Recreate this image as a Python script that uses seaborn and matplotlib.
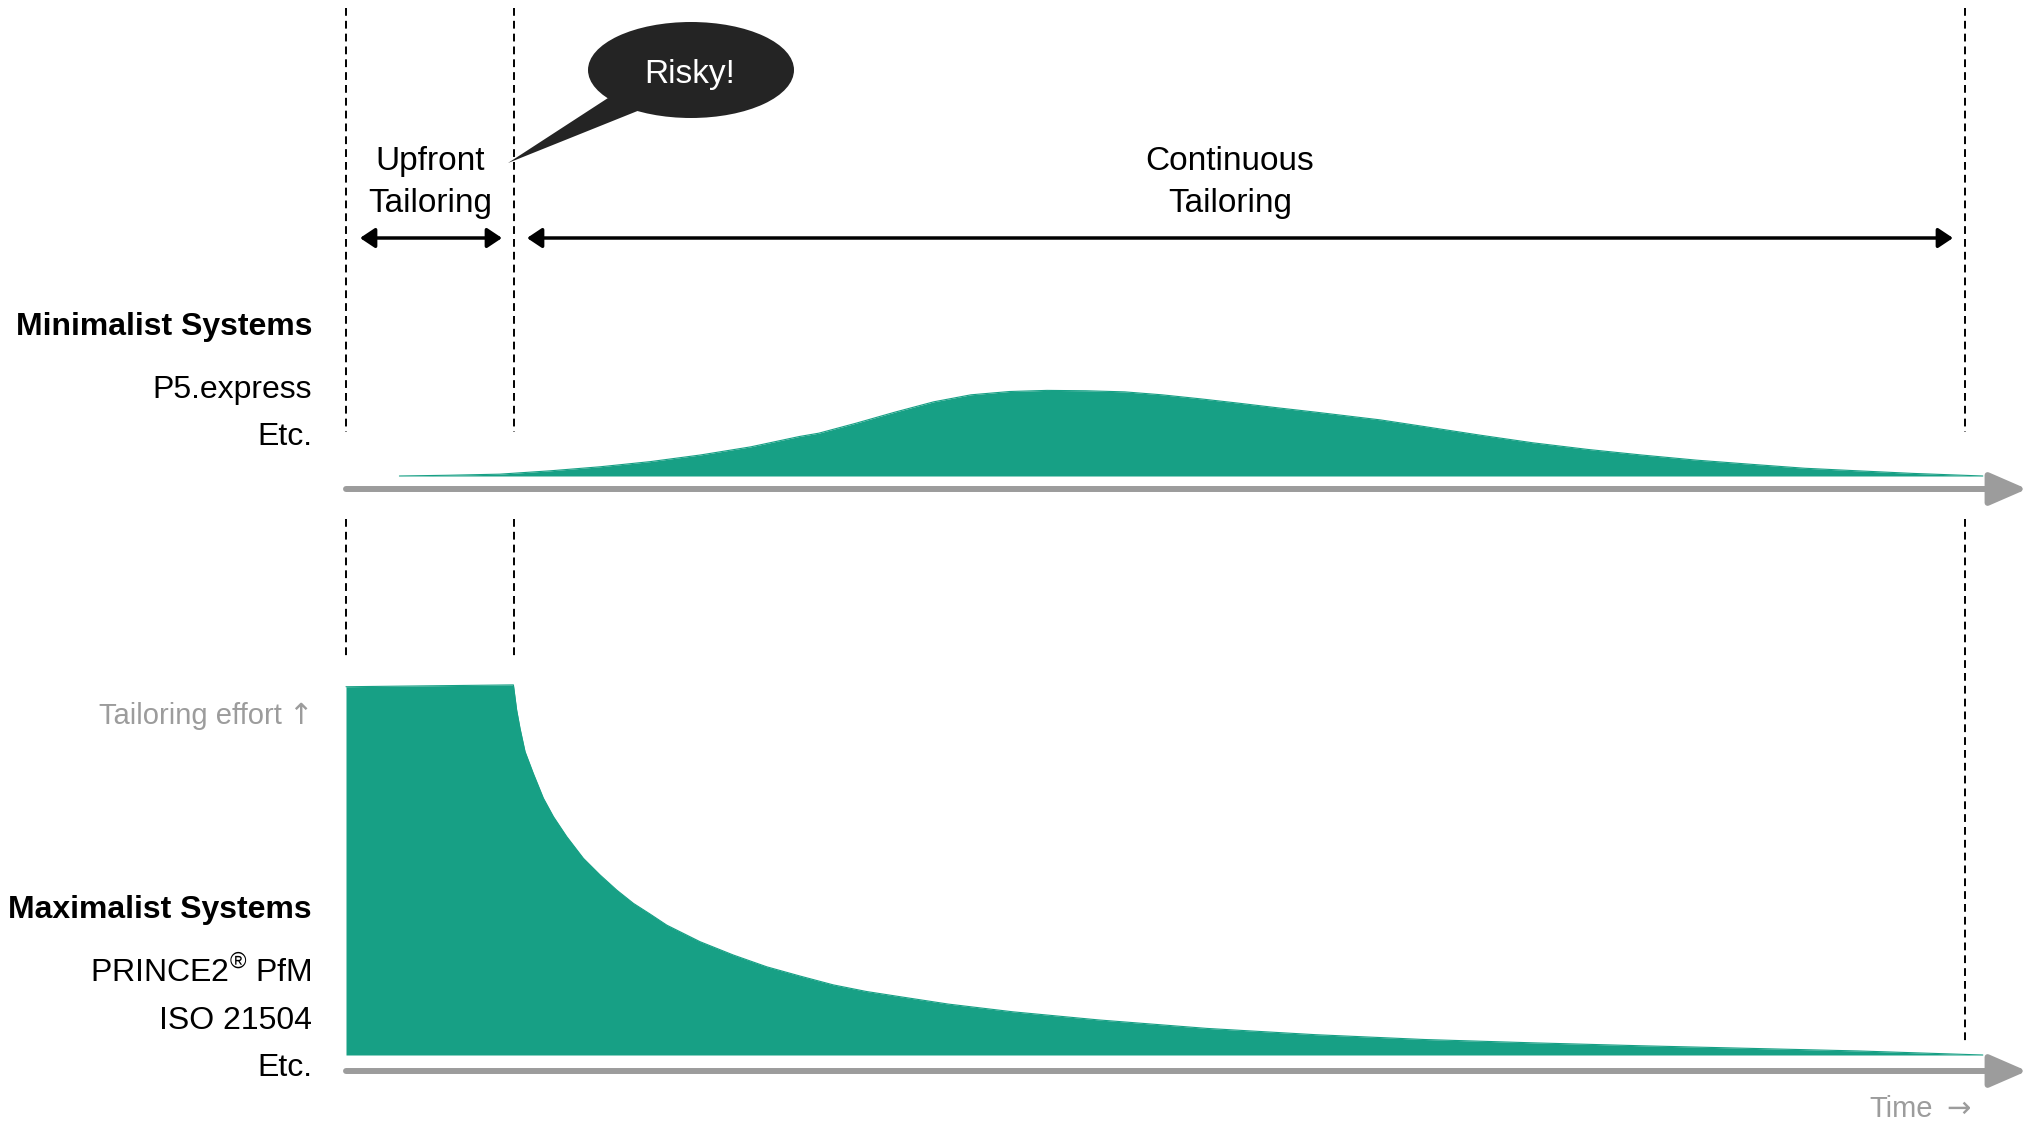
import numpy as np
import seaborn as sns
import matplotlib.pyplot as plt
from matplotlib.patches import Ellipse, Polygon

# time axis (arbitrary units, 0 = start, ~99.4 = end of horizon)
minimal_t = [3.3, 6.3, 9.5, 12.6, 15.7, 18.8, 21.9, 25.0, 28.0, 29.2, 31.5, 33.9, 36.3,
             38.6, 41.0, 43.3, 45.7, 48.1, 50.4, 52.8, 55.2, 57.5, 59.9, 63.9, 66.6,
             70.0, 73.3, 76.7, 80.0, 83.4, 86.7, 90.1, 93.4, 96.8, 101.1]
minimal_effort = [0.0, 0.2, 0.5, 1.4, 2.5, 3.9, 5.7, 7.9, 10.7, 11.6, 14.3, 17.3, 20.1,
                  22.0, 22.9, 23.2, 23.1, 22.8, 22.0, 20.9, 19.7, 18.5, 17.3, 15.2, 13.4,
                  11.1, 9.0, 7.2, 5.7, 4.3, 3.2, 2.1, 1.4, 0.7, 0.0]

maximal_t = [0.0, 10.34, 10.54, 10.75, 11.06, 11.57, 12.19, 12.81, 13.63, 14.66, 15.69,
             16.72, 17.75, 18.78, 19.81, 21.87, 23.92, 25.99, 28.04, 30.10, 32.16, 34.22,
             37.2, 41.2, 46.5, 53.2, 59.9, 66.6, 73.3, 80.0, 86.7, 93.4, 101.1]
maximal_effort = [99.8, 100.3, 93.5, 88.5, 82.2, 76.3, 69.6, 64.6, 59.2, 53.3, 48.8,
                  44.7, 41.1, 38.2, 35.2, 30.7, 27.1, 23.9, 21.4, 19.0, 17.2, 15.8,
                  13.8, 11.7, 9.5, 7.2, 5.5, 4.2, 3.3, 2.5, 1.8, 1.1, 0.0]

minimal_labels = ["P5.express", "Etc."]
maximal_labels = ["PRINCE2$^{®}$ PfM", "ISO 21504", "Etc."]

TEAL = "#17a085"
GRAY = "#9c9c9c"
DARK = "#242424"

sns.set_theme(style="white")
plt.rcParams["font.family"] = ["Liberation Sans", "DejaVu Sans"]
plt.rcParams["mathtext.fontset"] = "custom"
plt.rcParams["mathtext.rm"] = "Liberation Sans"

W, H = 2034, 1124
fig = plt.figure(figsize=(W / 100, H / 100), dpi=100)

# time scale shared by both curve panels: t=0 at px 346, 16.19 px per unit
x0, ppt = 346, 16.19
xlim = (-x0 / ppt, (W - x0) / ppt)

# upper panel: baseline at px 476, 3.69 px per effort unit
ax_top = fig.add_axes([0, 1 - 489 / H, 1, 489 / H])
ax_top.fill_between(minimal_t, minimal_effort, 0, color=TEAL, lw=0)
sns.lineplot(x=minimal_t, y=minimal_effort, ax=ax_top, color=TEAL, lw=0.8)
ax_top.set_xlim(*xlim)
ax_top.set_ylim(-13 / 3.69, 476 / 3.69)
ax_top.axis("off")

# lower panel: baseline at px 1055
ax_bot = fig.add_axes([0, 0, 1, 635 / H])
ax_bot.fill_between(maximal_t, maximal_effort, 0, color=TEAL, lw=0)
sns.lineplot(x=maximal_t, y=maximal_effort, ax=ax_bot, color=TEAL, lw=0.8)
ax_bot.set_xlim(*xlim)
ax_bot.set_ylim(-69 / 3.69, 566 / 3.69)
ax_bot.axis("off")

# overlay in pixel coordinates for the annotations
ov = fig.add_axes([0, 0, 1, 1], facecolor="none")
ov.set_xlim(0, W)
ov.set_ylim(H, 0)
ov.axis("off")

dash = dict(color="black", lw=1.4, linestyle=(0, (4, 2.6)))
for xv in (346, 514):
    ov.plot([xv, xv], [8, 432], **dash)
    ov.plot([xv, xv], [519, 658], **dash)
ov.plot([1965, 1965], [8, 432], **dash)
ov.plot([1965, 1965], [519, 1042], **dash)

# time axes
for yv in (489, 1071):
    ov.annotate("", xy=(2027, yv), xytext=(346, yv),
                arrowprops=dict(arrowstyle="-|>,head_length=1.15,head_width=0.5",
                                mutation_scale=20, lw=4.3, color=GRAY,
                                shrinkA=0, shrinkB=0))

# phase arrows
for a, b in ((360, 502), (527, 1953)):
    ov.annotate("", xy=(b, 238), xytext=(a, 238),
                arrowprops=dict(arrowstyle="<|-|>,head_length=0.9,head_width=0.6",
                                mutation_scale=10, lw=2.5, color="black",
                                shrinkA=0, shrinkB=0))

fs = 23
for xc, words in ((430, ("Upfront", "Tailoring")), (1230, ("Continuous", "Tailoring"))):
    ov.text(xc, 170, words[0], ha="center", va="baseline", fontsize=24, color="black")
    ov.text(xc, 212, words[1], ha="center", va="baseline", fontsize=24, color="black")

# speech bubble
ov.add_patch(Polygon([(608, 98), (508, 163), (640, 110)], closed=True, color=DARK, lw=0))
ov.add_patch(Ellipse((691, 70), 206, 96, color=DARK, lw=0))
ov.text(690, 83, "Risky!", ha="center", va="baseline", fontsize=24, color="white")

# side labels
ov.text(312, 335, "Minimalist Systems", ha="right", va="baseline", fontsize=fs,
        fontweight="bold", color="black")
for lab, yb in zip(minimal_labels, (398, 445)):
    ov.text(312, yb, lab, ha="right", va="baseline", fontsize=fs, color="black")

ov.text(282, 724, "Tailoring effort", ha="right", va="baseline", fontsize=21, color=GRAY)
ov.text(300, 724, "↑", ha="center", va="baseline", fontsize=21, color=GRAY,
        family="DejaVu Sans")
ov.text(312, 918, "Maximalist Systems", ha="right", va="baseline", fontsize=fs,
        fontweight="bold", color="black")
for lab, yb in zip(maximal_labels, (982, 1029, 1076)):
    ov.text(312, yb, lab, ha="right", va="baseline", fontsize=fs, color="black")

ov.text(1933, 1117, "Time", ha="right", va="baseline", fontsize=21, color=GRAY)
ov.text(1958, 1117, "→", ha="center", va="baseline", fontsize=21, color=GRAY,
        family="DejaVu Sans")

fig.savefig("out.png", dpi=100, facecolor="white")
